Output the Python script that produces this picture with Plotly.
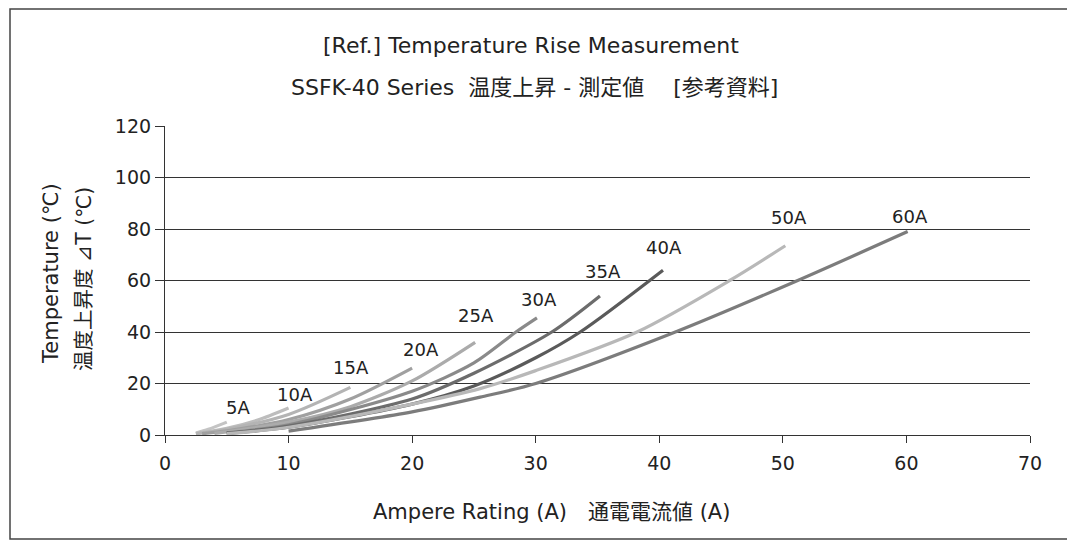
import plotly.graph_objects as go

# ---- data ----
series_names = ["5A", "10A", "15A", "20A", "25A", "30A", "35A", "40A", "50A", "60A"]
x_5A = [2.5, 3.5, 5.0]
y_5A = [0.8, 2.2, 5.0]
x_10A = [2.5, 5.0, 7.5, 10.0]
y_10A = [0.6, 2.6, 5.8, 10.5]
x_15A = [2.5, 5.0, 10.0, 15.0]
y_15A = [0.5, 2.2, 8.0, 18.5]
x_20A = [3.0, 5.0, 10.0, 15.0, 20.0]
y_20A = [0.5, 1.6, 6.0, 14.0, 26.0]
x_25A = [4.0, 10.0, 15.0, 20.0, 25.1]
y_25A = [0.6, 5.0, 11.0, 21.0, 36.0]
x_30A = [5.0, 10.0, 20.0, 25.0, 28.4, 30.1]
y_30A = [0.8, 4.0, 17.0, 28.0, 40.0, 45.5]
x_35A = [5.0, 10.0, 20.0, 25.0, 31.3, 35.2]
y_35A = [0.7, 3.5, 14.0, 24.0, 40.0, 54.0]
x_40A = [5.0, 10.0, 20.0, 25.0, 30.0, 33.6, 40.3]
y_40A = [0.6, 3.0, 12.0, 19.0, 30.0, 40.0, 64.0]
x_50A = [5.0, 10.0, 20.0, 25.5, 30.0, 38.2, 45.7, 50.2]
y_50A = [0.5, 3.0, 12.0, 18.0, 25.0, 40.0, 60.0, 73.5]
x_60A = [10.0, 20.0, 25.5, 30.0, 41.3, 51.2, 60.1]
y_60A = [1.5, 9.0, 14.7, 20.0, 40.0, 60.0, 79.0]

xs = [x_5A, x_10A, x_15A, x_20A, x_25A, x_30A, x_35A, x_40A, x_50A, x_60A]
ys = [y_5A, y_10A, y_15A, y_20A, y_25A, y_30A, y_35A, y_40A, y_50A, y_60A]

x_ticks = [0, 10, 20, 30, 40, 50, 60, 70]
y_ticks = [0, 20, 40, 60, 80, 100, 120]

# ---- styles ----
line_colors = ["#c4c4c4", "#bdbdbd", "#b4b4b4", "#a0a0a0", "#ababab",
               "#8a8a8a", "#6c6c6c", "#5a5a5a", "#b8b8b8", "#7c7c7c"]
label_shift = [2, 1, 7, 6, 14, 6, 12, 10, 16, 3]
label_dx = [11, 6, 1, 9, 1, 2, 3, 1, 4, 2]

FONT = "DejaVu Sans, Verdana, Noto Sans CJK JP, sans-serif"

# page offset (browser body margin) compensation: plot area spans page x 165..1030, y 126..435
PX0, PX1, PY0, PY1 = 165.0, 1030.0, 435.0, 126.0


def px(page_x):
    return (page_x - PX0) / (PX1 - PX0)


def py(page_y):
    return (PY0 - page_y) / (PY0 - PY1)


fig = go.Figure()
for name, xv, yv, col in zip(series_names, xs, ys, line_colors):
    fig.add_trace(go.Scatter(x=xv, y=yv, mode="lines", name=name,
                             line=dict(color=col, width=3.2, shape="spline", smoothing=0.8),
                             showlegend=False, hoverinfo="skip"))

annotations = []
for name, xv, yv, sh, dx in zip(series_names, xs, ys, label_shift, label_dx):
    annotations.append(dict(x=xv[-1], y=yv[-1], text=name, showarrow=False,
                            xanchor="center", yanchor="bottom", yshift=sh, xshift=dx,
                            font=dict(family=FONT, size=18, color="#222")))

# titles
annotations.append(dict(xref="paper", yref="paper", x=px(531), y=py(46),
                        text="[Ref.] Temperature Rise Measurement", showarrow=False,
                        xanchor="center", yanchor="middle",
                        font=dict(family=FONT, size=22, color="#222")))
annotations.append(dict(xref="paper", yref="paper", x=px(534), y=py(88),
                        text="SSFK-40 Series  温度上昇 - 測定値　 [参考資料]", showarrow=False,
                        xanchor="center", yanchor="middle",
                        font=dict(family=FONT, size=22, color="#222")))
annotations.append(dict(xref="paper", yref="paper", x=px(551), y=py(512),
                        text="Ampere Rating (A)　通電電流値 (A)", showarrow=False,
                        xanchor="center", yanchor="middle",
                        font=dict(family=FONT, size=21, color="#222")))
annotations.append(dict(xref="paper", yref="paper", x=px(51), y=py(274),
                        text="Temperature (℃)", showarrow=False, textangle=-90,
                        xanchor="center", yanchor="middle",
                        font=dict(family=FONT, size=21, color="#222")))
annotations.append(dict(xref="paper", yref="paper", x=px(84), y=py(279),
                        text="温度上昇度 ⊿T (℃)", showarrow=False, textangle=-90,
                        xanchor="center", yanchor="middle",
                        font=dict(family=FONT, size=20.5, color="#222")))

shapes = [dict(type="rect", xref="paper", yref="paper",
               x0=px(10), x1=px(1068), y0=py(539), y1=py(9),
               line=dict(color="#444", width=1.5), fillcolor="rgba(0,0,0,0)", layer="below")]

fig.update_layout(
    width=1067, height=535,
    margin=dict(l=157, r=45, t=118, b=108),
    paper_bgcolor="white", plot_bgcolor="white",
    annotations=annotations, shapes=shapes,
    xaxis=dict(range=[0, 70], tickvals=x_ticks, ticks="outside", ticklen=7, tickwidth=1.2,
               tickcolor="#333", showline=True, linecolor="#333", linewidth=1.2,
               showgrid=False, zeroline=False, mirror=False, ticklabelstandoff=4,
               tickfont=dict(family=FONT, size=19, color="#222")),
    yaxis=dict(range=[0, 120], tickvals=y_ticks, ticks="outside", ticklen=9, tickwidth=1.2,
               tickcolor="#333", showline=True, linecolor="#333", linewidth=1.2,
               showgrid=True, gridcolor="#333", gridwidth=1.1, zeroline=False,
               tickfont=dict(family=FONT, size=19, color="#222")),
)

fig.write_html("out.html")
